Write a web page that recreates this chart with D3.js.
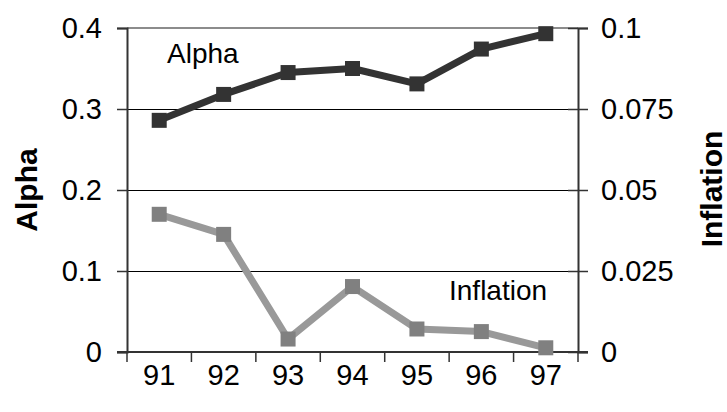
<!DOCTYPE html>
<html>
<head>
<meta charset="utf-8">
<script src="https://cdn.jsdelivr.net/npm/d3@7/dist/d3.min.js"></script>
<style>
  html, body { margin: 0; padding: 0; background: #ffffff; }
  svg { display: block; font-family: "Liberation Sans", Arial, sans-serif; }
</style>
</head>
<body>
<svg id="chart" width="727" height="412"></svg>
<script>
// Years on the category axis
const years = ["91", "92", "93", "94", "95", "96", "97"];
// Alpha (left axis)
const alpha = [0.286, 0.318, 0.345, 0.350, 0.331, 0.374, 0.393];
// Inflation (right axis)
const inflation = [0.0425, 0.0363, 0.0040, 0.0202, 0.0071, 0.0063, 0.0013];
// Tick values for both value axes
const alphaTicks = [0, 0.1, 0.2, 0.3, 0.4];
const inflationTicks = [0, 0.025, 0.05, 0.075, 0.1];
const inflationTickLabels = ["0", "0.025", "0.05", "0.075", "0.1"];

const svg = d3.select("#chart");
const plot = { left: 127, right: 578, top: 28, bottom: 352 };

const x = d3.scaleBand().domain(years).range([plot.left, plot.right]).padding(0);
const yL = d3.scaleLinear().domain([0, 0.4]).range([plot.bottom, plot.top]);
const yR = d3.scaleLinear().domain([0, 0.1]).range([plot.bottom, plot.top]);
const cx = d => x(d) + x.bandwidth() / 2;

// Horizontal gridlines
svg.append("g")
  .selectAll("line")
  .data(alphaTicks.filter(t => t > 0 && t < 0.4))
  .join("line")
  .attr("x1", plot.left).attr("x2", plot.right)
  .attr("y1", d => yL(d)).attr("y2", d => yL(d))
  .attr("stroke", "#000").attr("stroke-width", 1).attr("shape-rendering", "crispEdges");

// Top border of the plot area
svg.append("line")
  .attr("x1", plot.left).attr("x2", plot.right)
  .attr("y1", yL(0.4)).attr("y2", yL(0.4))
  .attr("stroke", "#8c8c8c").attr("stroke-width", 2);

const tickFont = 29;

// Left axis
const leftAxis = svg.append("g")
  .attr("transform", `translate(${plot.left},0)`)
  .call(d3.axisLeft(yL).tickValues(alphaTicks).tickSize(10).tickPadding(15)
    .tickFormat(d => d === 0 ? "0" : d3.format(".1f")(d)));
leftAxis.select(".domain").attr("stroke", "#333").attr("stroke-width", 2);
leftAxis.selectAll(".tick line").attr("stroke", "#333").attr("stroke-width", 1.5);
leftAxis.selectAll("text").attr("font-size", tickFont).attr("fill", "#000")
  .attr("font-family", "Liberation Sans, Arial, sans-serif");

// Right axis: ticks cross the axis line
const rightAxis = svg.append("g")
  .attr("transform", `translate(${plot.right},0)`)
  .call(d3.axisRight(yR).tickValues(inflationTicks).tickSize(10).tickPadding(13)
    .tickFormat((d, i) => inflationTickLabels[i]));
rightAxis.select(".domain").attr("stroke", "#333").attr("stroke-width", 2);
rightAxis.selectAll(".tick line").attr("x1", -10).attr("stroke", "#333").attr("stroke-width", 1.5);
rightAxis.selectAll("text").attr("font-size", tickFont).attr("fill", "#000")
  .attr("font-family", "Liberation Sans, Arial, sans-serif");

// Bottom axis with ticks on band edges
const bottom = svg.append("g").attr("transform", `translate(0,${plot.bottom})`);
bottom.append("line")
  .attr("x1", plot.left - 10).attr("x2", plot.right + 10)
  .attr("y1", 0).attr("y2", 0)
  .attr("stroke", "#333").attr("stroke-width", 2);
const edges = years.map(d => x(d)).concat([plot.right]);
bottom.selectAll("line.edge")
  .data(edges)
  .join("line").attr("class", "edge")
  .attr("x1", d => d).attr("x2", d => d)
  .attr("y1", 0).attr("y2", 10)
  .attr("stroke", "#333").attr("stroke-width", 1.5);
bottom.selectAll("text")
  .data(years)
  .join("text")
  .attr("x", d => cx(d)).attr("y", 33)
  .attr("text-anchor", "middle")
  .attr("font-size", tickFont).attr("fill", "#000")
  .text(d => d);

// Axis titles
svg.append("text")
  .attr("transform", "translate(37,190) rotate(-90)")
  .attr("text-anchor", "middle")
  .attr("font-size", 30).attr("font-weight", "bold")
  .text("Alpha");
svg.append("text")
  .attr("transform", "translate(722,189) rotate(-90)")
  .attr("text-anchor", "middle")
  .attr("font-size", 30).attr("font-weight", "bold")
  .text("Inflation");

// Series lines and square markers
const lineL = d3.line().x((d, i) => cx(years[i])).y(d => yL(d));
const lineR = d3.line().x((d, i) => cx(years[i])).y(d => yR(d));
const markerSize = 15;

svg.append("path").datum(inflation)
  .attr("d", lineR).attr("fill", "none")
  .attr("stroke", "#999999").attr("stroke-width", 7).attr("stroke-linejoin", "round");
svg.append("g").selectAll("rect")
  .data(inflation).join("rect")
  .attr("x", (d, i) => cx(years[i]) - markerSize / 2)
  .attr("y", d => yR(d) - markerSize / 2)
  .attr("width", markerSize).attr("height", markerSize)
  .attr("fill", "#808080");

svg.append("path").datum(alpha)
  .attr("d", lineL).attr("fill", "none")
  .attr("stroke", "#333333").attr("stroke-width", 7).attr("stroke-linejoin", "round");
svg.append("g").selectAll("rect")
  .data(alpha).join("rect")
  .attr("x", (d, i) => cx(years[i]) - markerSize / 2)
  .attr("y", d => yL(d) - markerSize / 2)
  .attr("width", markerSize).attr("height", markerSize)
  .attr("fill", "#333333");

// Series labels inside the plot
svg.append("text").attr("x", 167).attr("y", 63)
  .attr("font-size", 28).attr("fill", "#000").text("Alpha");
svg.append("text").attr("x", 449).attr("y", 300)
  .attr("font-size", 28).attr("fill", "#000").text("Inflation");
</script>
</body>
</html>
